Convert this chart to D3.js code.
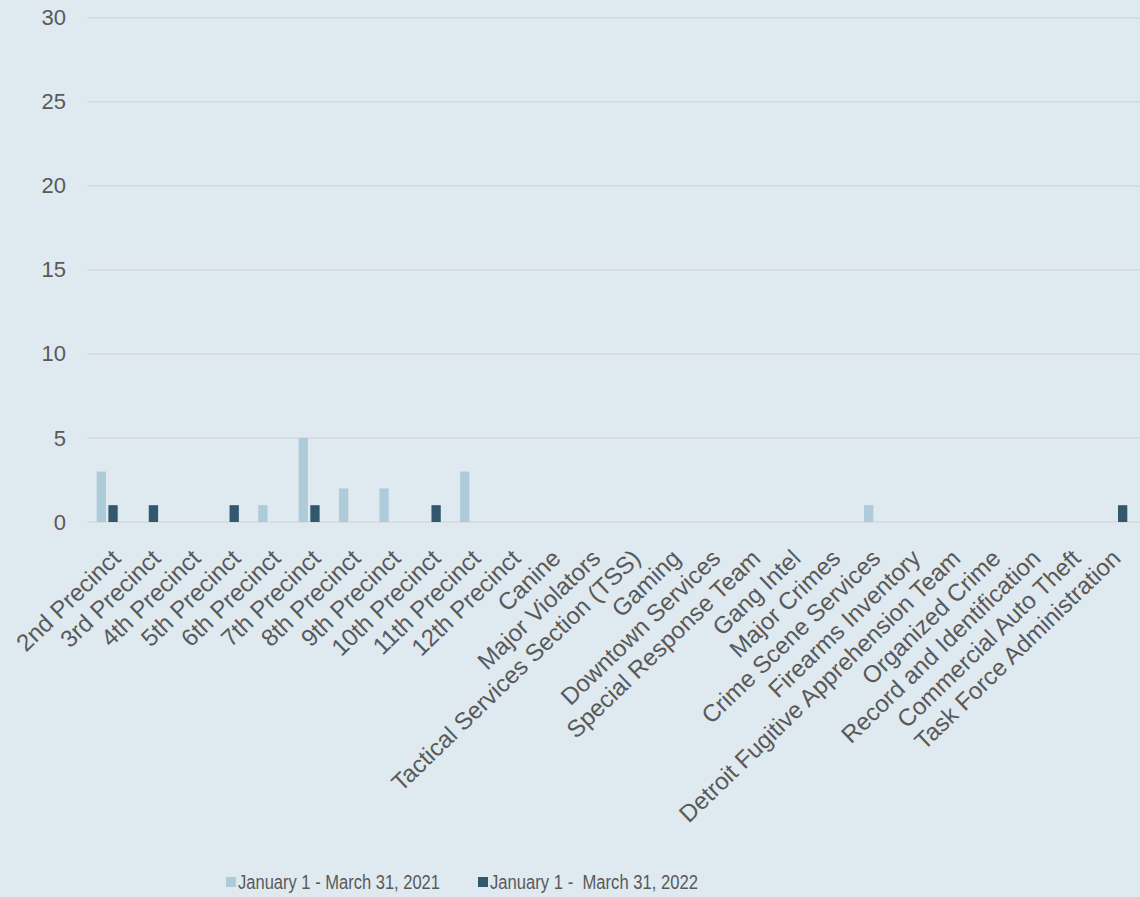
<!DOCTYPE html>
<html>
<head>
<meta charset="utf-8">
<script src="https://cdn.jsdelivr.net/npm/d3@7"></script>
<style>
  html, body { margin: 0; padding: 0; background: #dfe9f0; }
  svg { display: block; }
  text { font-family: "Liberation Sans", Arial, sans-serif; fill: #595959; }
</style>
</head>
<body>
<svg id="chart" width="1140" height="897"></svg>
<script>
const categories = [
  "2nd Precinct", "3rd Precinct", "4th Precinct", "5th Precinct", "6th Precinct",
  "7th Precinct", "8th Precinct", "9th Precinct", "10th Precinct", "11th Precinct",
  "12th Precinct", "Canine", "Major Violators", "Tactical Services Section (TSS)",
  "Gaming", "Downtown Services", "Special Response Team", "Gang Intel", "Major Crimes",
  "Crime Scene Services", "Firearms Inventory", "Detroit Fugitive Apprehension Team",
  "Organized Crime", "Record and Identification", "Commercial Auto Theft",
  "Task Force Administration"
];
const seriesNames = ["January 1 - March 31, 2021", "January 1 -  March 31, 2022"];
const values2021 = [3, 0, 0, 0, 1, 5, 2, 2, 0, 3, 0, 0, 0, 0, 0, 0, 0, 0, 0, 1, 0, 0, 0, 0, 0, 0];
const values2022 = [1, 1, 0, 1, 0, 1, 0, 0, 1, 0, 0, 0, 0, 0, 0, 0, 0, 0, 0, 0, 0, 0, 0, 0, 0, 1];
const yTicks = [0, 5, 10, 15, 20, 25, 30];
const colors = ["#aecbd9", "#31586c"];

(function () {
const svg = d3.select("#chart");
svg.append("rect").attr("width", 1140).attr("height", 897).attr("fill", "#dfe9f0");

const mLeft = 87, mRight = 1137, mTop = 17.8, mBottom = 522;
const x0 = d3.scaleBand().domain(categories).range([mLeft, mRight]).paddingInner(0).paddingOuter(0);
const bw = x0.bandwidth();
const x1 = d3.scaleBand().domain(seriesNames).range([bw / 2 - 10.5, bw / 2 + 10.5]).paddingInner(0.205);
const y = d3.scaleLinear().domain([0, 30]).range([mBottom, mTop]);
// label positions (category axis labels are spaced slightly tighter than the bars)
const xl = d3.scaleBand().domain(categories).range([mLeft + 2, mRight - 8]);

// gridlines
svg.append("g")
  .selectAll("line").data(yTicks).join("line")
  .attr("x1", mLeft).attr("x2", 1140)
  .attr("y1", d => y(d)).attr("y2", d => y(d))
  .attr("stroke", "#d6d9dc").attr("stroke-width", 1.5);

// y axis labels
const yAxis = d3.axisLeft(y).tickValues(yTicks).tickSize(0).tickPadding(0);
const gy = svg.append("g").attr("transform", `translate(66,0)`).call(yAxis);
gy.select(".domain").remove();
gy.selectAll("text").attr("font-size", 22).attr("fill", "#595959")
  .style("font-family", '"Liberation Sans", Arial, sans-serif');

// bars
const data = categories.map((c, i) => ({ c, vals: [values2021[i], values2022[i]] }));
const groups = svg.append("g").selectAll("g").data(data).join("g")
  .attr("transform", d => `translate(${x0(d.c)},0)`);
groups.selectAll("rect")
  .data(d => d.vals.map((v, j) => ({ v, s: seriesNames[j], j })).filter(e => e.v > 0))
  .join("rect")
  .attr("x", d => x1(d.s))
  .attr("width", x1.bandwidth())
  .attr("y", d => y(d.v))
  .attr("height", d => y(0) - y(d.v))
  .attr("fill", d => colors[d.j]);

// x axis labels
const xAxis = d3.axisBottom(xl).tickSize(0).tickPadding(0);
const gx = svg.append("g").attr("transform", `translate(0,${mBottom})`).call(xAxis);
gx.select(".domain").remove();
gx.selectAll(".tick text")
  .attr("font-size", 24)
  .attr("fill", "#595959")
  .style("font-family", '"Liberation Sans", Arial, sans-serif')
  .attr("text-anchor", "end")
  .attr("dy", null)
  .attr("y", null)
  .attr("transform", "translate(13,38) rotate(-44)");

// legend
const legendItems = [
  { name: seriesNames[0], color: colors[0], sx: 226, tx: 238, len: 202 },
  { name: seriesNames[1], color: colors[1], sx: 478, tx: 490, len: 208 }
];
const lg = svg.append("g");
legendItems.forEach(it => {
  lg.append("rect").attr("x", it.sx).attr("y", 877).attr("width", 10).attr("height", 10).attr("fill", it.color);
  lg.append("text").attr("x", it.tx).attr("y", 889)
    .attr("font-size", 20)
    .attr("textLength", it.len).attr("lengthAdjust", "spacingAndGlyphs")
    .style("white-space", "pre")
    .attr("xml:space", "preserve")
    .text(it.name);
});
})();
</script>
</body>
</html>
